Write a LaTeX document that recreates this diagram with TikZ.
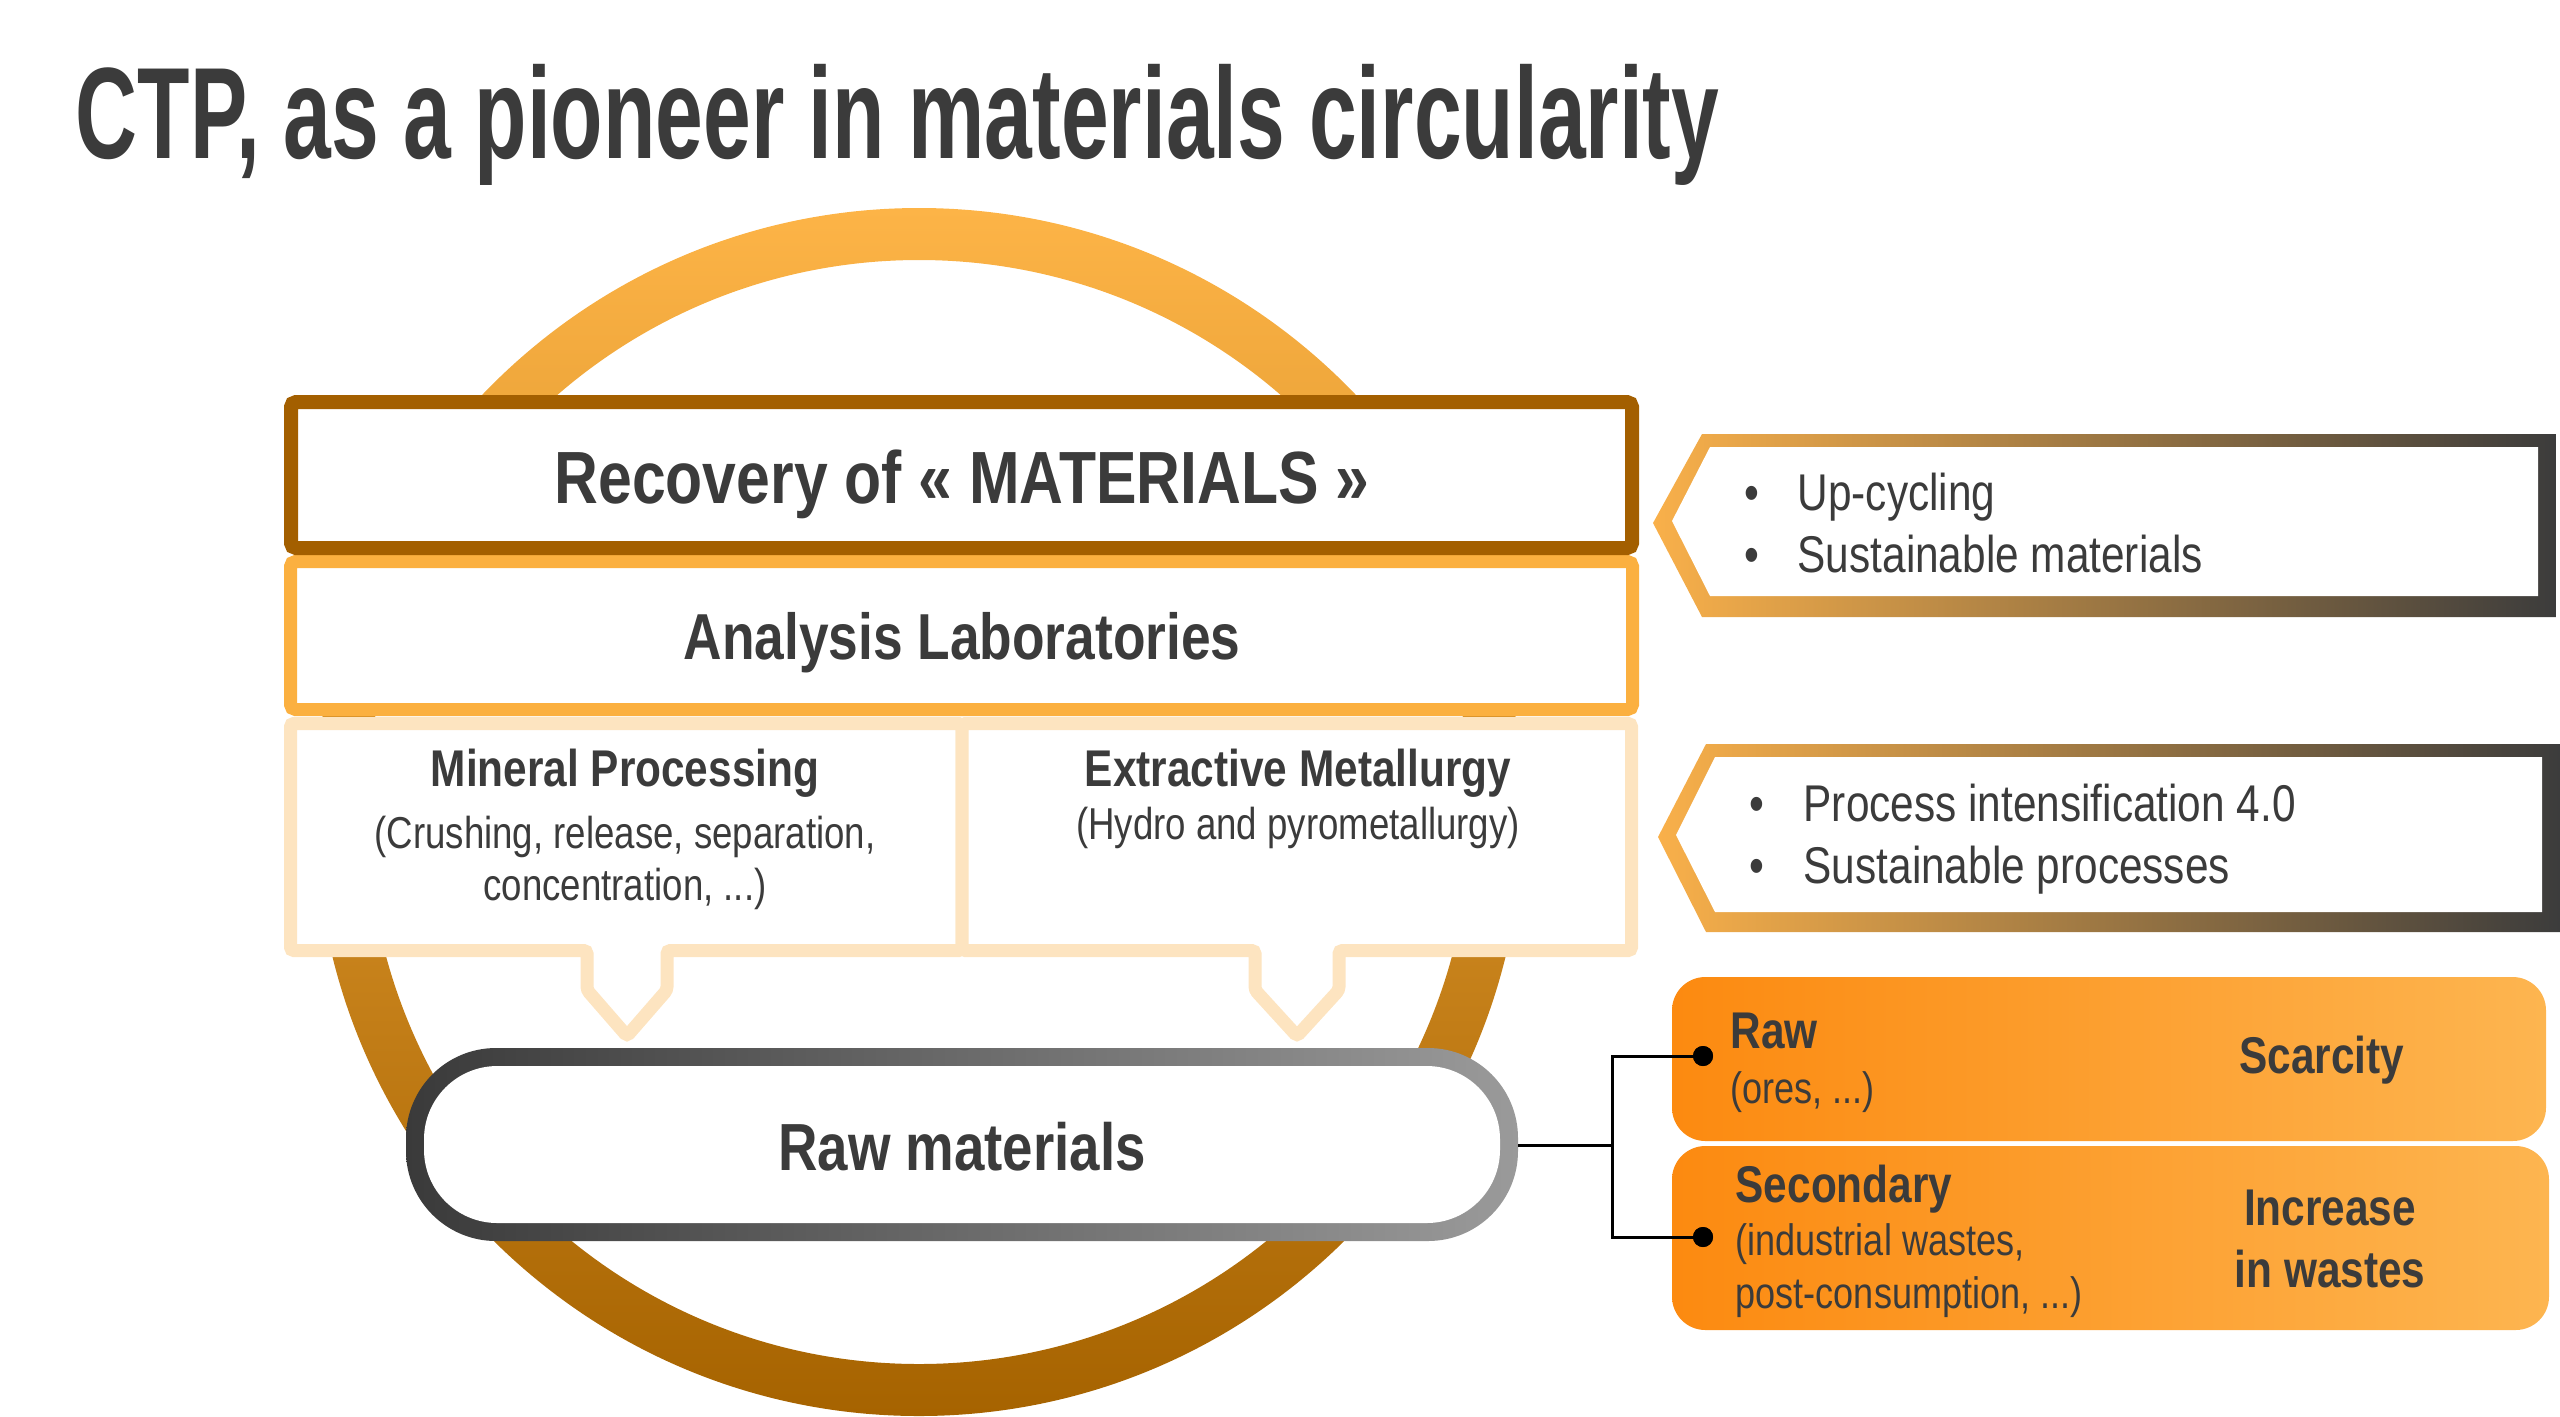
\documentclass[tikz,border=0pt]{standalone}
\usepackage{fontspec}
\setmainfont{Liberation Sans}
\newfontfamily\narrowfont[FakeStretch=0.82]{Liberation Sans}
\newfontfamily\titlefont[FakeStretch=0.66]{Liberation Sans}
\usetikzlibrary{positioning,calc}
\definecolor{txtgray}{HTML}{3B3B3B}
\definecolor{ringtop}{HTML}{FDB447}
\definecolor{ringmid}{HTML}{D48300}
\definecolor{ringbot}{HTML}{A66300}
\definecolor{recbrown}{HTML}{A35F00}
\definecolor{laborange}{HTML}{FBB040}
\definecolor{callpale}{HTML}{FDE4C0}
\definecolor{pilldark}{HTML}{3A3A3A}
\definecolor{pilllight}{HTML}{9A9A9A}
\definecolor{tagorange}{HTML}{F9B04A}
\definecolor{tagmid}{HTML}{C49A5C}
\definecolor{tagdark}{HTML}{3C3C3C}
\definecolor{boxleft}{HTML}{FC8A10}
\definecolor{boxright}{HTML}{FDB550}

\tikzset{
  txt/.style={inner sep=0pt, anchor=base, text=txtgray},
  head/.style={txt, font=\narrowfont\bfseries\fontsize{15.5}{18}\selectfont},
  sub/.style={txt, font=\narrowfont\fontsize{13.4}{16}\selectfont},
  bul/.style={txt, font=\narrowfont\fontsize{15.5}{18}\selectfont},
  dot/.style={circle, fill=black, inner sep=0pt, minimum size=6pt},
}

\begin{document}
\begin{tikzpicture}[x=0.3pt, y=-0.3pt]
    \useasboundingbox (0,0) rectangle (2560,1416);

    % title
    \node[txt, anchor=base west, font=\titlefont\bfseries\fontsize{39}{44}\selectfont] (title) at (75,158) {CTP, as a pioneer in materials circularity};

    % circular ring behind the blocks
    \shade[top color=ringtop, middle color=ringmid, bottom color=ringbot, even odd rule] (919,812) circle (604) (919,812) circle (552);

    % stacked blocks
    \draw[laborange, line width=3.9pt, fill=white, rounded corners=1.5pt] (290.5,561.5) rectangle (1632.5,709.5);
    \draw[recbrown, line width=4.2pt, fill=white, rounded corners=1.5pt] (291,402) rectangle (1632,548);
    \node[txt, font=\narrowfont\bfseries\fontsize{22.2}{26}\selectfont] (recov) at (962,503) {Recovery of « MATERIALS »};
    \node[txt, font=\narrowfont\bfseries\fontsize{19.5}{23}\selectfont] (labs) at (962,659) {Analysis Laboratories};

    % two callouts
    \draw[callpale, line width=3.9pt, fill=white, rounded corners=1pt] (290.5,723.5) -- (962,723.5) -- (962,950.5) -- (667,950.5) -- (667,990) -- (627,1036) -- (587,990) -- (587,950.5) -- (290.5,950.5) -- cycle;
    \draw[callpale, line width=3.9pt, fill=white, rounded corners=1pt] (962,723.5) -- (1631.5,723.5) -- (1631.5,950.5) -- (1339,950.5) -- (1339,990) -- (1297,1036) -- (1255,990) -- (1255,950.5) -- (962,950.5) -- cycle;
    \node[head] (minproc) at (625,786) {Mineral Processing};
    \node[sub] (minproc1) at (625,848) {(Crushing, release, separation,};
    \node[sub] (minproc2) at (625,900) {concentration, ...)};
    \node[head] (extmet) at (1298,786) {Extractive Metallurgy};
    \node[sub] (extmet1) at (1298,839) {(Hydro and pyrometallurgy)};

    % raw materials pill
    \shade[left color=pilldark, right color=pilllight, rounded corners=27pt] (406,1048) rectangle (1518,1241);
    \fill[white, rounded corners=22pt] (424,1066) rectangle (1500,1223);
    \node[txt, font=\narrowfont\bfseries\fontsize{20}{24}\selectfont] (rawmat) at (962,1170) {Raw materials};

    % tags on the right
    \shade[left color=tagorange, middle color=tagmid, right color=tagdark] (1702,434) -- (2556,434) -- (2556,617) -- (1702,617) -- (1653,523) -- cycle;
    \fill[white] (1710,447) -- (2538,447) -- (2538,596) -- (1710,596) -- (1672,521) -- cycle;
    \node[bul] (b1) at (1752,510) {•};
    \node[bul, anchor=base west] (upcyc) at (1797,510) {Up-cycling};
    \node[bul] (b2) at (1752,572) {•};
    \node[bul, anchor=base west] (susmat) at (1797,572) {Sustainable materials};

    \shade[left color=tagorange, middle color=tagmid, right color=tagdark] (1706,744) -- (2560,744) -- (2560,932) -- (1706,932) -- (1658,837) -- cycle;
    \fill[white] (1715,757) -- (2542,757) -- (2542,912) -- (1715,912) -- (1676,835) -- cycle;
    \node[bul] (b3) at (1757,821) {•};
    \node[bul, anchor=base west] (procint) at (1803,821) {Process intensification 4.0};
    \node[bul] (b4) at (1757,883) {•};
    \node[bul, anchor=base west] (susproc) at (1803,883) {Sustainable processes};

    % orange boxes
    \shade[left color=boxleft, right color=boxright, rounded corners=10pt] (1672,977) rectangle (2546,1141);
    \shade[left color=boxleft, right color=boxright, rounded corners=10pt] (1672,1146) rectangle (2549,1330);
    \node[head, anchor=base west] (raw) at (1730,1048) {Raw};
    \node[sub, anchor=base west, font=\narrowfont\fontsize{13.2}{16}\selectfont] (ores) at (1730,1103) {(ores, ...)};
    \node[head] (scarce) at (2322,1073) {Scarcity};
    \node[head, anchor=base west] (second) at (1735,1202) {Secondary};
    \node[sub, anchor=base west, font=\narrowfont\fontsize{13.2}{16}\selectfont] (indw) at (1735,1255) {(industrial wastes,};
    \node[sub, anchor=base west, font=\narrowfont\fontsize{13.2}{16}\selectfont] (postc) at (1735,1308) {post-consumption, ...)};
    \node[head] (incr) at (2330,1225) {Increase};
    \node[head] (inw) at (2330,1287) {in wastes};

    % connector
    \coordinate (rawedge) at (1518,1145);
    \coordinate (fork) at (1612,1145);
    \node[dot] (dotraw) at (1703,1056) {};
    \node[dot] (dotsec) at (1703,1237) {};
    \draw[line width=0.9pt] (rawedge) -- (fork);
    \draw[line width=0.9pt] (dotraw.center) -| (fork) |- (dotsec.center);
    \node[dot] at (dotraw) {};
    \node[dot] at (dotsec) {};
\end{tikzpicture}
\end{document}
